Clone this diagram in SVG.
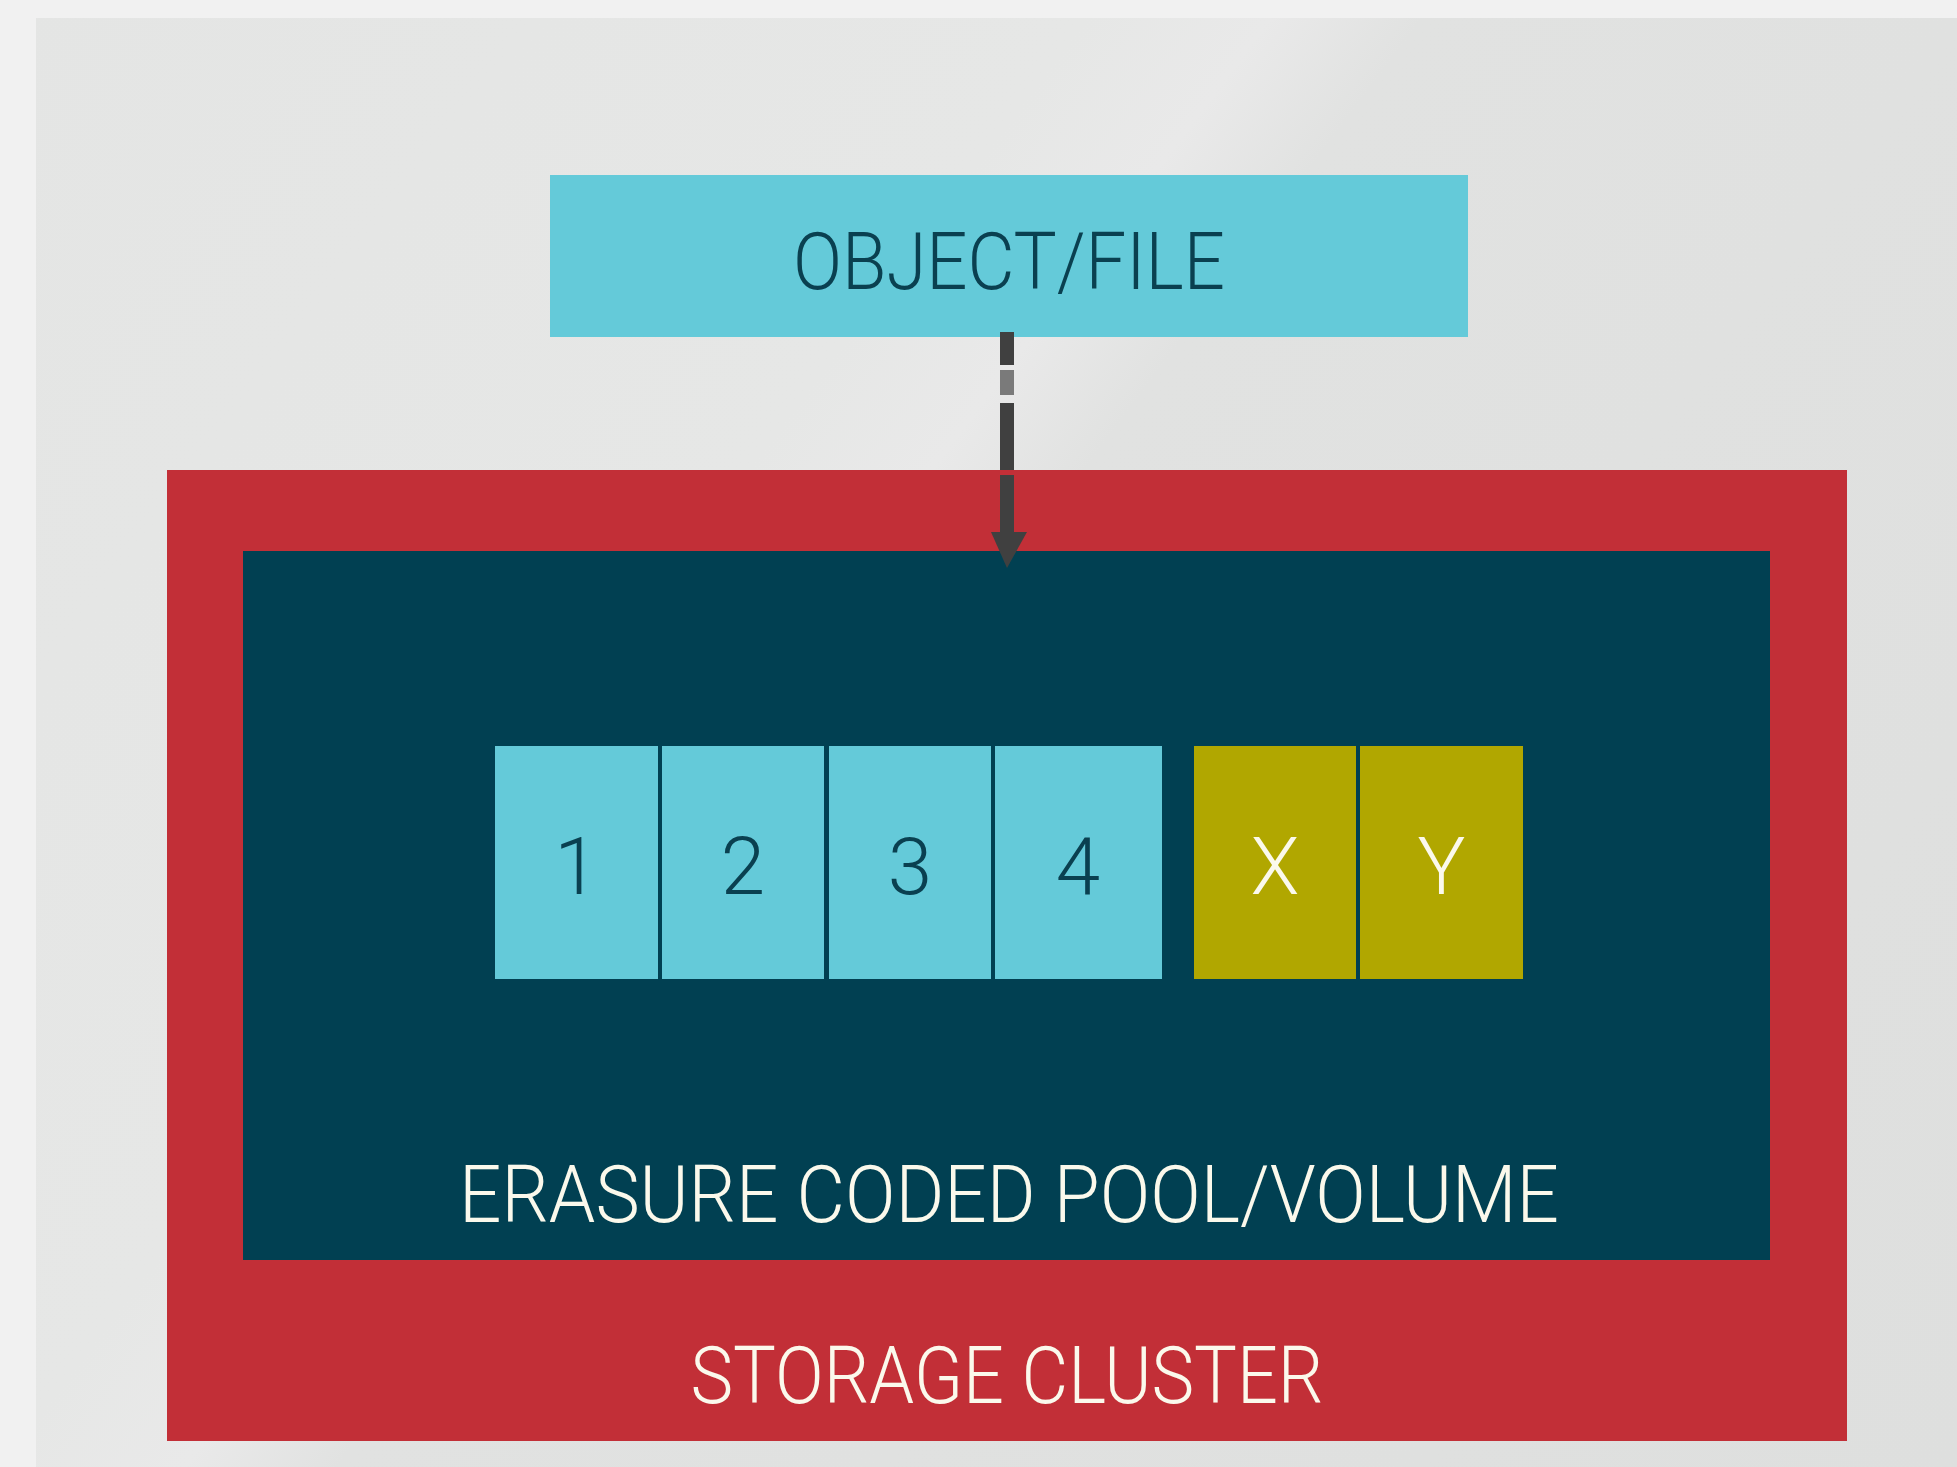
<svg xmlns="http://www.w3.org/2000/svg" width="1957" height="1467" viewBox="0 0 1957 1467">
  <defs>
    <linearGradient id="panelShade" x1="0" y1="0" x2="1957" y2="1467" gradientUnits="userSpaceOnUse">
      <stop offset="0" stop-color="#e4e5e4"/>
      <stop offset="0.36" stop-color="#e6e7e6"/>
      <stop offset="0.42" stop-color="#e9e9e9"/>
      <stop offset="0.47" stop-color="#e1e2e1"/>
      <stop offset="1" stop-color="#dedfde"/>
    </linearGradient>
    <style>
      .label { font-family: Roboto, "Liberation Sans", "DejaVu Sans", sans-serif; font-weight: 300; font-size: 80px; }
      .dark { fill: #0a4050; }
      .light { fill: #fbf9ec; }
      .cyan { fill: #64cad9; }
      .olive { fill: #b1a700; }
      .arrow { fill: #404040; }
    </style>
  </defs>

  <!-- page and backdrop panel -->
  <rect x="0" y="0" width="1957" height="1467" fill="#f1f1f1"/>
  <rect x="36" y="18" width="1921" height="1449" fill="url(#panelShade)"/>

  <!-- storage cluster container -->
  <g id="storage-cluster">
    <rect x="167" y="470" width="1680" height="971" fill="#c22f37"/>
    <text class="label light" x="1007" y="1403" text-anchor="middle" textLength="633" lengthAdjust="spacingAndGlyphs">STORAGE CLUSTER</text>
  </g>

  <!-- erasure coded pool -->
  <g id="erasure-pool">
    <rect x="243" y="551" width="1527" height="709" fill="#014052"/>
    <text class="label light" x="1009" y="1222" text-anchor="middle" textLength="1100" lengthAdjust="spacingAndGlyphs">ERASURE CODED POOL/VOLUME</text>
  </g>

  <!-- data chunks -->
  <g id="chunk-1">
    <rect class="cyan" x="495" y="746" width="163" height="233"/>
    <text class="label dark" x="576.5" y="894" text-anchor="middle">1</text>
  </g>
  <g id="chunk-2">
    <rect class="cyan" x="662" y="746" width="162" height="233"/>
    <text class="label dark" x="743" y="894" text-anchor="middle">2</text>
  </g>
  <g id="chunk-3">
    <rect class="cyan" x="829" y="746" width="162" height="233"/>
    <text class="label dark" x="910" y="894" text-anchor="middle">3</text>
  </g>
  <g id="chunk-4">
    <rect class="cyan" x="995" y="746" width="167" height="233"/>
    <text class="label dark" x="1078" y="894" text-anchor="middle">4</text>
  </g>

  <!-- parity chunks -->
  <g id="parity-x">
    <rect class="olive" x="1194" y="746" width="162" height="233"/>
    <text class="label light" x="1275" y="894" text-anchor="middle">X</text>
  </g>
  <g id="parity-y">
    <rect class="olive" x="1360" y="746" width="163" height="233"/>
    <text class="label light" x="1441.5" y="894" text-anchor="middle">Y</text>
  </g>

  <!-- source object -->
  <g id="object-file">
    <rect class="cyan" x="550" y="175" width="918" height="162"/>
    <text class="label dark" x="1009" y="289" text-anchor="middle" textLength="432" lengthAdjust="spacingAndGlyphs">OBJECT/FILE</text>
  </g>

  <!-- connectors -->
  <g id="connectors">
    <g id="object-to-pool">
      <rect class="arrow" x="1000" y="332" width="14" height="33"/>
      <rect x="1000" y="370" width="14" height="25" fill="#7a7a7a"/>
      <rect class="arrow" x="1000" y="403" width="14" height="67"/>
      <rect class="arrow" x="1000" y="475" width="14" height="57"/>
      <polygon class="arrow" points="991,532 1027,532 1007,568"/>
    </g>
  </g>
</svg>
